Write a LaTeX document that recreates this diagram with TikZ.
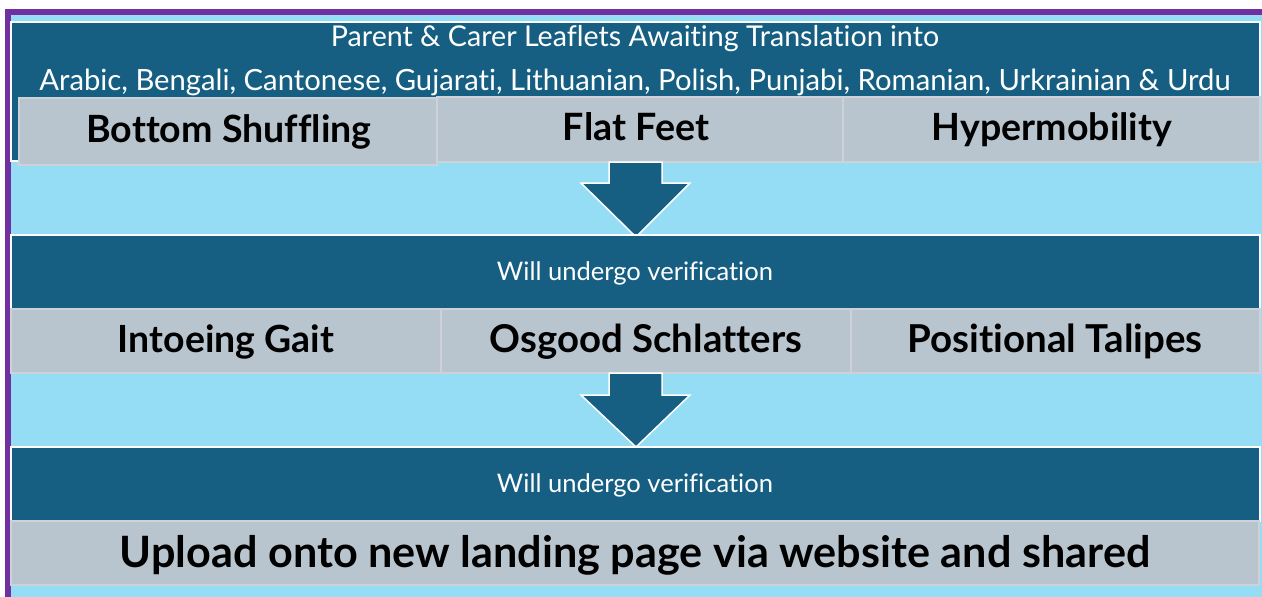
\documentclass[tikz,border=0pt]{standalone}
\usepackage{fontspec}
\setmainfont{Lato}[Ligatures=CommonOff]
\usepackage{graphicx}
\definecolor{darkteal}{HTML}{165F82}
\definecolor{skyblue}{HTML}{95DCF5}
\definecolor{greybox}{HTML}{B9C5CE}
\definecolor{greyedge}{HTML}{CDD2D8}
\definecolor{purpleframe}{HTML}{7030A0}
\tikzset{
  darkband/.style={rectangle, fill=darkteal, draw=white, line width=1.5pt, inner sep=0pt, outer sep=0pt, anchor=north west},
  greycell/.style={rectangle, fill=greybox, draw=greyedge, line width=1.5pt, inner sep=0pt, outer sep=0pt, anchor=north west},
  blockarrow/.style={fill=darkteal, draw=white, line width=1.5pt, line join=miter},
  whitetext/.style={text=white, inner sep=0pt, anchor=base},
  boldtext/.style={text=black, inner sep=0pt, anchor=base, font=\bfseries},
}
\newcommand{\fitw}[2]{\resizebox{#1pt}{!}{#2}}
\begin{document}
\begin{tikzpicture}[x=1pt,y=-1pt]
\useasboundingbox (0,0) rectangle (1262,597);
\fill[white] (0,0) rectangle (1262,597);
\fill[purpleframe] (5,9) rectangle (1262,597);
\fill[skyblue] (11,15) rectangle (1262,597);

% top band
\node[darkband, minimum width=1249pt, minimum height=139pt] (band1) at (11,22) {};
\node[whitetext] (title1) at (635,46.5) {\fitw{608}{Parent \& Carer Leaflets Awaiting Translation into}};
\node[whitetext] (title2) at (635,90.5) {\fitw{1191}{Arabic, Bengali, Cantonese, Gujarati, Lithuanian, Polish, Punjabi, Romanian, Urkrainian \& Urdu}};

% row 1
\node[greycell, minimum width=418pt, minimum height=67pt] (bs) at (19,98) {};
\node[greycell, minimum width=406pt, minimum height=65pt] (ff) at (437,97) {};
\node[greycell, minimum width=417pt, minimum height=65pt] (hm) at (843,97) {};
\node[boldtext] (bst) at (229,142) {\fitw{285}{Bottom Shuffling}};
\node[boldtext] (fft) at (636,140) {\fitw{146}{Flat Feet}};
\node[boldtext] (hmt) at (1052,140) {\fitw{240}{Hypermobility}};

% arrow 1
\draw[blockarrow] (609,162) -- (662,162) -- (662,183) -- (690,183) -- (636,237) -- (581,183) -- (609,183) -- cycle;

% band 2
\node[darkband, minimum width=1249pt, minimum height=74pt] (band2) at (11,235) {};
\node[whitetext] (v1) at (635,280) {\fitw{276}{Will undergo verification}};

% row 2
\node[greycell, minimum width=430pt, minimum height=64pt] (ig) at (11,309) {};
\node[greycell, minimum width=410pt, minimum height=64pt] (os) at (441,309) {};
\node[greycell, minimum width=409pt, minimum height=64pt] (pt) at (851,309) {};
\node[boldtext] (igt) at (226,352) {\fitw{216}{Intoeing Gait}};
\node[boldtext] (ost) at (646,352) {\fitw{312}{Osgood Schlatters}};
\node[boldtext] (ptt) at (1055,352) {\fitw{295}{Positional Talipes}};

% arrow 2
\draw[blockarrow] (609,373) -- (662,373) -- (662,395) -- (690,395) -- (636,447) -- (581,395) -- (609,395) -- cycle;

% band 3
\node[darkband, minimum width=1249pt, minimum height=74pt] (band3) at (11,447) {};
\node[whitetext] (v2) at (635,492) {\fitw{276}{Will undergo verification}};

% final row
\node[greycell, minimum width=1248pt, minimum height=64pt] (up) at (11,521) {};
\node[boldtext] (upt) at (635,567) {\fitw{1030}{Upload onto new landing page via website and shared}};
\end{tikzpicture}
\end{document}
